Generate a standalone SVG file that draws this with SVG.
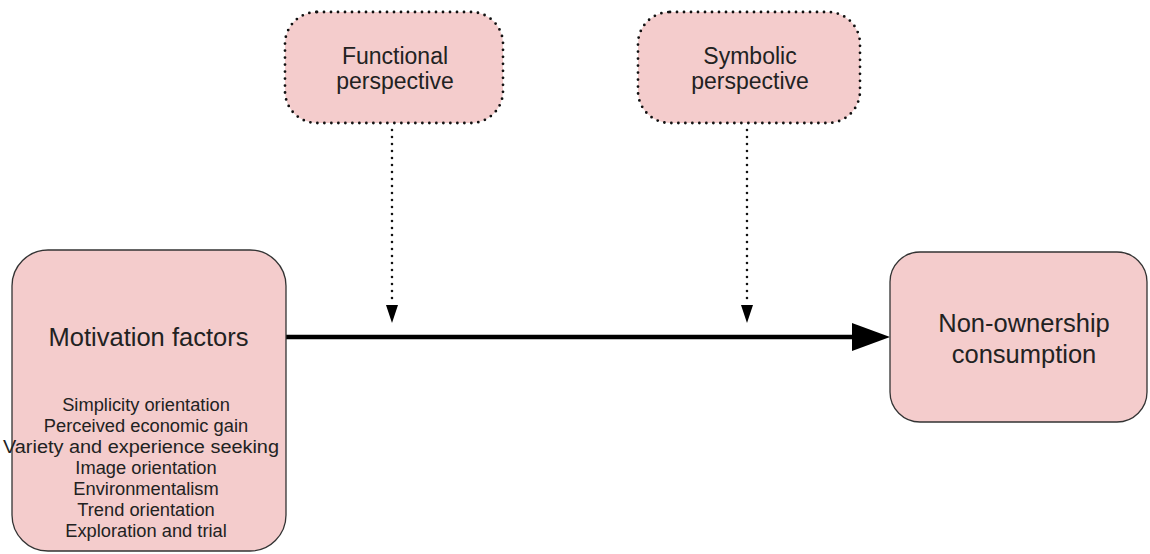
<svg xmlns="http://www.w3.org/2000/svg" width="1150" height="554" viewBox="0 0 1150 554">
<defs>
<style>
.box{fill:#f4cccc;stroke:#333;stroke-width:1.3}
.dot{fill:#f4cccc;stroke:#111;stroke-width:2.8;stroke-dasharray:0 7;stroke-linecap:round}
text{font-family:"Liberation Sans",Arial,sans-serif;fill:#222;text-anchor:middle}
.t1{font-size:25.5px}
.t2{font-size:23px}
.t3{font-size:18.3px}
.dl{stroke:#111;stroke-width:2.6;stroke-dasharray:0 7;stroke-linecap:round;fill:none}
</style>
</defs>
<g id="connectors">
<line x1="286" y1="337" x2="856" y2="337" stroke="#000" stroke-width="4.5"/>
<path d="M852,323 L890,337 L852,351 Z" fill="#000"/>
<line class="dl" x1="392" y1="130" x2="392" y2="300"/>
<path d="M386,305 L398,305 L392,323 Z" fill="#000"/>
<line class="dl" x1="747" y1="130" x2="747" y2="300"/>
<path d="M741,305 L753,305 L747,323 Z" fill="#000"/>
</g>
<g id="functional">
<rect class="dot" x="285" y="12" width="218" height="111" rx="32"/>
<text class="t2" x="395" y="64">Functional</text>
<text class="t2" x="395" y="89">perspective</text>
</g>
<g id="symbolic">
<rect class="dot" x="638" y="12" width="222" height="111" rx="32"/>
<text class="t2" x="750" y="64">Symbolic</text>
<text class="t2" x="750" y="89">perspective</text>
</g>
<g id="motivation">
<rect class="box" x="12" y="250" width="274" height="301" rx="36"/>
<text class="t1" x="148.5" y="346">Motivation factors</text>
<text class="t3" x="146" y="411">Simplicity orientation</text>
<text class="t3" x="146" y="432">Perceived economic gain</text>
<text class="t3" x="141" y="453" textLength="276" lengthAdjust="spacingAndGlyphs">Variety and experience seeking</text>
<text class="t3" x="146" y="474">Image orientation</text>
<text class="t3" x="146" y="495">Environmentalism</text>
<text class="t3" x="146" y="516">Trend orientation</text>
<text class="t3" x="146" y="537">Exploration and trial</text>
</g>
<g id="nonownership">
<rect class="box" x="890" y="252" width="257" height="170" rx="30"/>
<text class="t1" x="1024" y="332">Non-ownership</text>
<text class="t1" x="1024" y="363">consumption</text>
</g>
</svg>
